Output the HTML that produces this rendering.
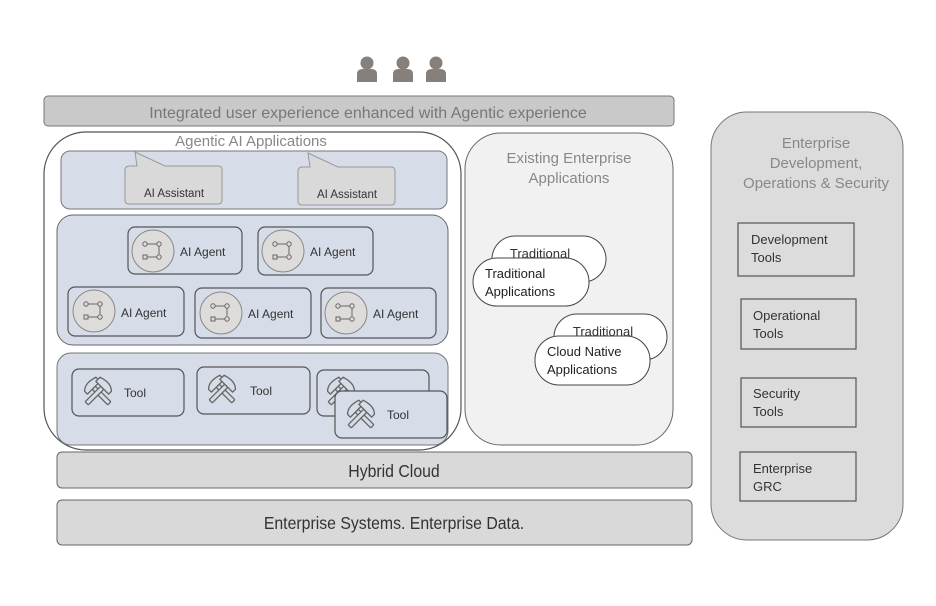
<!DOCTYPE html>
<html><head><meta charset="utf-8"><style>
html,body{margin:0;padding:0;background:#fff;}
svg{display:block;font-family:"Liberation Sans",sans-serif;}
</style></head><body>
<svg width="936" height="606" viewBox="0 0 936 606" xmlns="http://www.w3.org/2000/svg">
<defs>
<g id="person" fill="#85807b"><circle cx="0" cy="-7" r="6.5"/><path d="M-10,12 L-10,4 Q-10,-1 -4,-1 L4,-1 Q10,-1 10,4 L10,12 Z"/></g>
<g id="agentic">
<circle cx="0" cy="0" r="21" fill="#dedcda" stroke="#888" stroke-width="1"/>
<g stroke="#666" stroke-width="1" fill="none"><circle cx="-8" cy="-7" r="2.2"/><line x1="-6" y1="-7" x2="4" y2="-7"/><circle cx="6" cy="-7" r="2.2"/><line x1="6" y1="-5" x2="6" y2="3"/><circle cx="6" cy="6" r="2.2"/><rect x="-10" y="4" width="4" height="4"/><line x1="-6" y1="6" x2="4" y2="6"/></g>
</g>
<g id="hmr" stroke="#666" stroke-width="1.3" fill="#d6dce8" stroke-linejoin="round">
<rect x="-2.2" y="-6" width="4.4" height="22" rx="1"/>
<path d="M-9,-6 L-9,-10 Q-4,-15 5,-13 L9,-12 L9,-6 Z"/>
</g>
<g id="hammer">
<use href="#hmr" transform="rotate(-45)"/>
<use href="#hmr" transform="scale(-1,1) rotate(-45)"/>
</g>
</defs>
<use href="#person" x="367" y="70"/><use href="#person" x="403" y="70"/><use href="#person" x="436" y="70"/>
<rect x="44" y="96" width="630" height="30" rx="4" fill="#c9c9c9" stroke="#777"/>
<text x="368" y="118" font-size="16" fill="#777" text-anchor="middle">Integrated user experience enhanced with Agentic  experience</text>

<rect x="44" y="132" width="417" height="318" rx="42" fill="#fff" stroke="#555" stroke-width="1.2"/>
<rect x="61" y="151" width="386" height="58" rx="9" fill="#d6dce8" stroke="#777"/>
<text x="251" y="146" font-size="15" fill="#888" text-anchor="middle">Agentic AI Applications</text>
<g fill="#d9d9d9" stroke="#999">
<path d="M130,166 L137,166 L135,152 L165,166 L218,166 Q222,166 222,170 L222,200 Q222,204 218,204 L129,204 Q125,204 125,200 L125,170 Q125,166 130,166 Z"/>
<path d="M303,167 L310,167 L308,153 L338,167 L391,167 Q395,167 395,171 L395,201 Q395,205 391,205 L302,205 Q298,205 298,201 L298,171 Q298,167 303,167 Z"/>
</g>
<text x="174" y="197" font-size="11.5" fill="#333" text-anchor="middle">AI Assistant</text>
<text x="347" y="198" font-size="11.5" fill="#333" text-anchor="middle">AI Assistant</text>

<rect x="57" y="215" width="391" height="130" rx="16" fill="#d6dce8" stroke="#666"/>
<g fill="#d6dce8" stroke="#555" stroke-width="1.2">
<rect x="128" y="227" width="114" height="47" rx="7"/><rect x="258" y="227" width="115" height="48" rx="7"/>
<rect x="68" y="287" width="116" height="49" rx="7"/><rect x="195" y="288" width="116" height="50" rx="7"/><rect x="321" y="288" width="115" height="50" rx="7"/>
</g>
<use href="#agentic" x="153" y="251"/><use href="#agentic" x="283" y="251"/>
<use href="#agentic" x="94" y="311"/><use href="#agentic" x="221" y="313"/><use href="#agentic" x="346" y="313"/>
<g font-size="12" fill="#333"><text x="180" y="256">AI Agent</text><text x="310" y="256">AI Agent</text>
<text x="121" y="317">AI Agent</text><text x="248" y="318">AI Agent</text><text x="373" y="318">AI Agent</text></g>

<rect x="57" y="353" width="391" height="92" rx="14" fill="#d6dce8" stroke="#777"/>
<g fill="#d6dce8" stroke="#555" stroke-width="1.2">
<rect x="72" y="369" width="112" height="47" rx="7"/><rect x="197" y="367" width="113" height="47" rx="7"/><rect x="317" y="370" width="112" height="46" rx="7"/>
</g>
<use href="#hammer" x="98" y="392"/><use href="#hammer" x="222" y="390"/><use href="#hammer" x="341" y="392"/>
<text x="124" y="397" font-size="12" fill="#333">Tool</text><text x="250" y="395" font-size="12" fill="#333">Tool</text>
<rect x="335" y="391" width="112" height="47" rx="7" fill="#d6dce8" stroke="#555" stroke-width="1.2"/>
<use href="#hammer" x="361" y="415"/><text x="387" y="419" font-size="12" fill="#333">Tool</text>

<rect x="465" y="133" width="208" height="312" rx="36" fill="#f1f1f1" stroke="#666"/>
<text x="569" y="163" font-size="15" fill="#888" text-anchor="middle">Existing Enterprise</text>
<text x="569" y="183" font-size="15" fill="#888" text-anchor="middle">Applications</text>
<rect x="492" y="236" width="114" height="46" rx="23" fill="#fff" stroke="#444"/>
<text x="540" y="258" font-size="13" fill="#333" text-anchor="middle">Traditional</text>
<rect x="473" y="258" width="116" height="48" rx="24" fill="#fff" stroke="#444"/>
<text x="485" y="278" font-size="13" fill="#222">Traditional</text><text x="485" y="296" font-size="13" fill="#222">Applications</text>
<rect x="554" y="314" width="113" height="46" rx="23" fill="#fff" stroke="#444"/>
<text x="603" y="336" font-size="13" fill="#333" text-anchor="middle">Traditional</text>
<rect x="535" y="336" width="115" height="49" rx="24" fill="#fff" stroke="#444"/>
<text x="547" y="356" font-size="13" fill="#222">Cloud Native</text><text x="547" y="374" font-size="13" fill="#222">Applications</text>

<rect x="57" y="452" width="635" height="36" rx="5" fill="#d9d9d9" stroke="#666"/>
<text x="394" y="477" font-size="18" fill="#333" text-anchor="middle" style="font-stretch:condensed" transform="translate(394,0) scale(0.88,1) translate(-394,0)">Hybrid Cloud</text>
<rect x="57" y="500" width="635" height="45" rx="5" fill="#d9d9d9" stroke="#666"/>
<text x="394" y="529" font-size="18" fill="#333" text-anchor="middle" transform="translate(394,0) scale(0.88,1) translate(-394,0)">Enterprise Systems. Enterprise Data.</text>

<rect x="711" y="112" width="192" height="428" rx="36" fill="#dcdcdc" stroke="#777"/>
<g font-size="15" fill="#888" text-anchor="middle"><text x="816" y="148">Enterprise</text><text x="816" y="168">Development,</text><text x="816" y="188">Operations &amp; Security</text></g>
<g fill="#dcdcdc" stroke="#555" stroke-width="1.2">
<rect x="738" y="223" width="116" height="53"/><rect x="741" y="299" width="115" height="50"/><rect x="741" y="378" width="115" height="49"/><rect x="740" y="452" width="116" height="49"/>
</g>
<g font-size="13" fill="#333">
<text x="751" y="244">Development</text><text x="751" y="262">Tools</text>
<text x="753" y="320">Operational</text><text x="753" y="338">Tools</text>
<text x="753" y="398">Security</text><text x="753" y="416">Tools</text>
<text x="753" y="473">Enterprise</text><text x="753" y="491">GRC</text>
</g>
</svg>
</body></html>
